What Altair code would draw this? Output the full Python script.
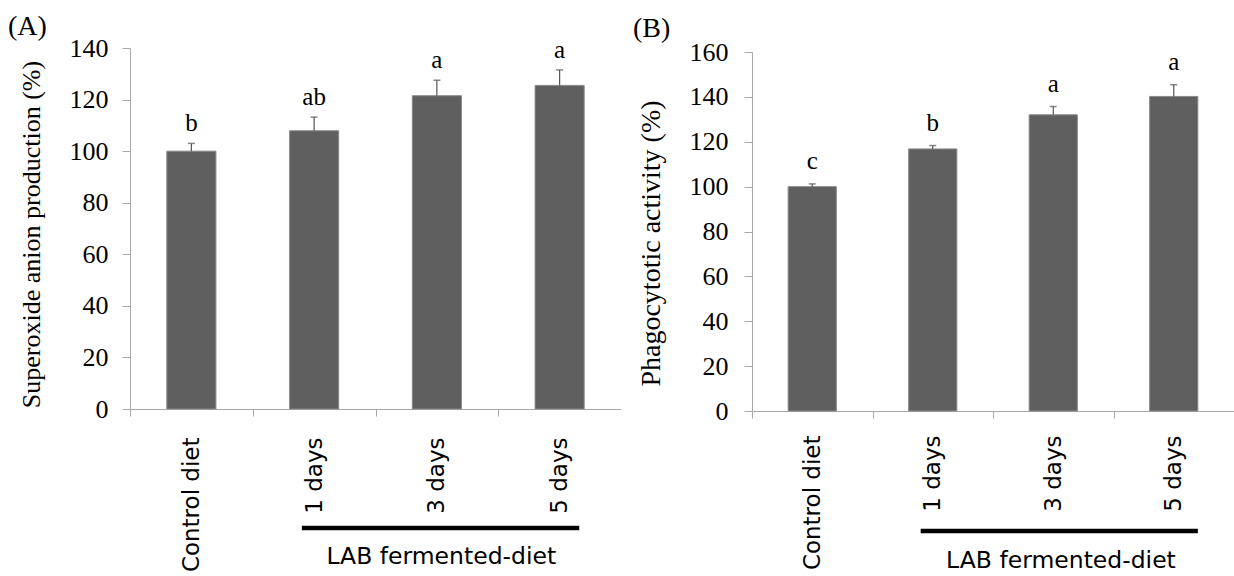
import altair as alt
import pandas as pd

# Treatment groups on the x axis
groups = ["Control diet", "1 days", "3 days", "5 days"]

# (A) Superoxide anion production (%)
superoxide_mean = [100.0, 107.9, 121.5, 125.5]
superoxide_err = [3.0, 5.3, 6.0, 6.0]
superoxide_sig = ["b", "ab", "a", "a"]
superoxide_ticks = [0, 20, 40, 60, 80, 100, 120, 140]

# (B) Phagocytotic activity (%)
phago_mean = [100.0, 116.8, 132.0, 140.2]
phago_err = [1.2, 1.5, 3.7, 5.2]
phago_sig = ["c", "b", "a", "a"]
phago_ticks = [0, 20, 40, 60, 80, 100, 120, 140, 160]

# Bracket under the fermented-diet groups
bracket_from = "1 days"
bracket_to = "5 days"
bracket_mid = "3 days"
bracket_label = "LAB fermented-diet"

BAR = "#5f5f5f"
AXIS_GRAY = "#a9a9a9"
SERIF = "Liberation Serif"
SANS = "DejaVu Sans"


def panel(means, errs, sigs, ticks, ymax, ytitle, tag, width, height, top,
          label_pad, ylabel_pad, title_x, title_y, title_size, sig_dy,
          line_y, line_bp, text_y, text_bp, tag_x, tag_y):
    df = pd.DataFrame({"group": groups, "mean": means, "err": errs, "sig": sigs})
    df["upper"] = df["mean"] + df["err"]
    step = width / len(groups)

    xscale = alt.Scale(domain=groups, paddingInner=0.6, paddingOuter=0.3)
    yscale = alt.Scale(domain=[0, ymax], nice=False, range=[height, top])

    x_axis = alt.Axis(title=None, labelAngle=270, labelAlign="right",
                      labelBaseline="middle", labelFont=SANS,
                      labelFontSize=23, labelColor="black",
                      labelPadding=label_pad, labelLimit=400,
                      tickSize=7, tickColor=AXIS_GRAY,
                      domainColor=AXIS_GRAY, tickOffset=-step / 2,
                      labelOffset=step / 2)
    y_axis = alt.Axis(values=ticks, title=ytitle, grid=False,
                      titleFont=SERIF, titleFontSize=title_size,
                      titleFontWeight="normal", titleColor="black",
                      titleAngle=270, titleAlign="center",
                      titleBaseline="middle", titleX=title_x,
                      titleY=title_y, labelFont=SERIF,
                      labelFontSize=26, labelColor="black",
                      labelPadding=ylabel_pad, tickSize=8,
                      tickColor=AXIS_GRAY, domainColor=AXIS_GRAY)

    gx = alt.X("group:N", scale=xscale, sort=groups, axis=x_axis)

    base = alt.Chart(df)

    bars = base.mark_bar(color=BAR, stroke="#8a8a8a", strokeWidth=1).encode(
        x=gx,
        y=alt.Y("mean:Q", scale=yscale, axis=y_axis),
    )

    stems = base.mark_rule(color="#555555", strokeWidth=1.2).encode(
        x=gx,
        y=alt.Y("mean:Q", scale=yscale, axis=y_axis),
        y2="upper:Q",
    )

    caps = base.mark_tick(color="#555555", size=7, thickness=1.5).encode(
        x=gx,
        y=alt.Y("upper:Q", scale=yscale, axis=y_axis),
    )

    letters = base.mark_text(font=SERIF, fontSize=25, color="black",
                             baseline="alphabetic", dy=sig_dy).encode(
        x=gx,
        y=alt.Y("upper:Q", scale=yscale, axis=y_axis),
        text="sig:N",
    )

    bdf = pd.DataFrame({"start": [bracket_from], "end": [bracket_to],
                        "mid": [bracket_mid], "label": [bracket_label]})
    bline = alt.Chart(bdf).mark_rule(color="black", strokeWidth=4.5).encode(
        x=alt.X("start:N", scale=xscale, axis=x_axis, bandPosition=line_bp[0]),
        x2=alt.X2("end:N", bandPosition=line_bp[1]),
        y=alt.value(line_y),
    )
    btext = alt.Chart(bdf).mark_text(font=SANS, fontSize=23.5, color="black",
                                     align="center", baseline="alphabetic").encode(
        x=alt.X("mid:N", scale=xscale, axis=x_axis, bandPosition=text_bp),
        y=alt.value(text_y),
        text="label:N",
    )

    tdf = pd.DataFrame({"tag": [tag]})
    tag_mark = alt.Chart(tdf).mark_text(font=SERIF, fontSize=28, color="black",
                                        align="left", baseline="middle").encode(
        x=alt.value(tag_x), y=alt.value(tag_y), text="tag:N")

    return alt.layer(bars, stems, caps, letters, bline, btext, tag_mark).properties(
        width=width, height=height)


panel_a = panel(superoxide_mean, superoxide_err, superoxide_sig, superoxide_ticks,
                140, "Superoxide anion production (%)", "(A)", 491, 361, 0,
                label_pad=21, ylabel_pad=14, title_x=-99, title_y=186,
                title_size=26, sig_dy=-12, line_y=480, line_bp=(0.25, 0.9),
                text_y=516, text_bp=0.59, tag_x=-122, tag_y=-21)

panel_b = panel(phago_mean, phago_err, phago_sig, phago_ticks,
                160, "Phagocytotic activity (%)", "(B)", 482, 363, 4,
                label_pad=17, ylabel_pad=16, title_x=-101, title_y=195,
                title_size=28, sig_dy=-15, line_y=483, line_bp=(0.25, 1.0),
                text_y=520, text_bp=0.66, tag_x=-119, tag_y=-19)

chart = alt.hconcat(panel_a, panel_b, spacing=131, bounds="flush").properties(
    padding={"left": 8, "top": 13, "right": 0, "bottom": 0},
    background="white",
).configure_view(stroke=None)

chart.save("out.html", embed_options={"renderer": "svg", "actions": False})
